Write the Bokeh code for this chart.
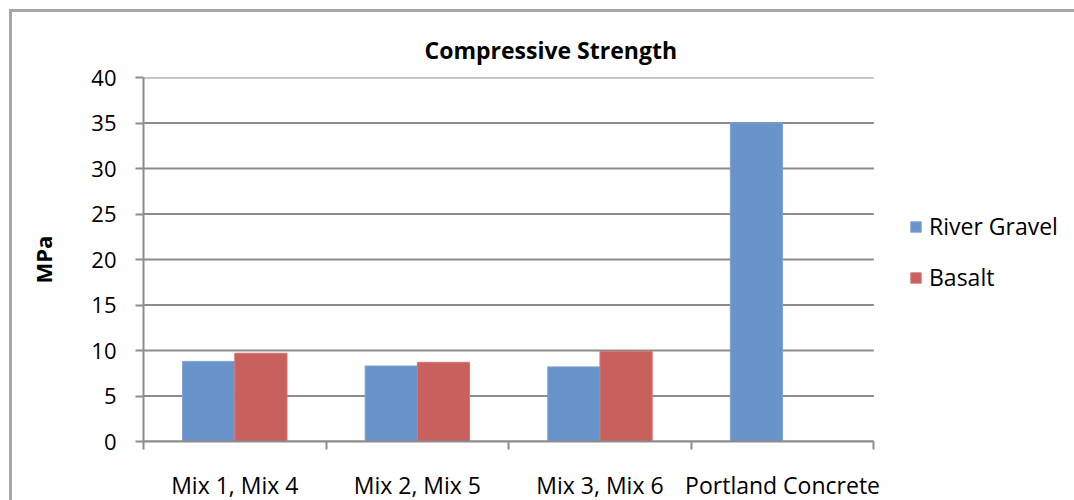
from bokeh.plotting import figure
from bokeh.models import (ColumnDataSource, FixedTicker, Legend, LegendItem,
                          Title, Range1d)
from bokeh.transform import dodge
from bokeh.embed import file_html
from bokeh.resources import INLINE

# Compressive strength (MPa) per mix pair
categories = ["Mix 1, Mix 4", "Mix 2, Mix 5", "Mix 3, Mix 6", "Portland Concrete"]
river_gravel = [8.8, 8.3, 8.2, 35.0]
basalt = [9.7, 8.7, 9.9, float("nan")]
y_ticks = [0, 5, 10, 15, 20, 25, 30, 35, 40]

FONT = "Open Sans"
GRID = "#8c8c8c"
BLUE = "#6894c9"
RED = "#c8605e"

# chart area sits inside a grey border drawn on the left and top edges
OFF = 12
W, H = 1074 - OFF, 500 - OFF
LEFT, TOP, BOTTOM = 143 - OFF, 77 - OFF, 58
CAT_PX = 728  # pixel width of the category area; the legend sits to its right

n = len(categories)
x_end = n * (W - LEFT) / CAT_PX

centers = [i + 0.5 for i in range(n)]
src = ColumnDataSource(dict(x=centers, rg=river_gravel, ba=basalt))
grid_src = ColumnDataSource(dict(y=y_ticks, x0=[0] * len(y_ticks),
                                 x1=[n] * len(y_ticks)))

p = figure(width=W, height=H, output_backend="svg", toolbar_location=None,
           x_range=Range1d(0, x_end), y_range=Range1d(0, 40),
           min_border_left=LEFT, min_border_right=0,
           min_border_top=TOP, min_border_bottom=BOTTOM,
           background_fill_color="white", border_fill_color="white",
           outline_line_color=None)
p.styles = {"border-left": "3px solid #a6a6a6", "border-top": "3px solid #a6a6a6",
            "margin-left": "9px", "margin-top": "9px", "box-sizing": "content-box"}

# horizontal gridlines spanning the category area only
p.segment(x0="x0", x1="x1", y0="y", y1="y", source=grid_src,
          line_color=GRID, line_width=2, level="underlay")

bar_w = 0.286
r1 = p.vbar(x=dodge("x", -bar_w / 2), top="rg", width=bar_w, source=src,
            fill_color=BLUE, line_color="#7aa3d4", line_width=1)
r2 = p.vbar(x=dodge("x", bar_w / 2), top="ba", width=bar_w, source=src,
            fill_color=RED, line_color="#d47674", line_width=1)

# chart title
p.add_layout(Title(text="Compressive Strength", align="left", offset=281,
                   text_font=FONT, text_font_size="23px", text_font_style="bold",
                   text_color="#000000", standoff=23), "above")

# x axis: category labels centred, ticks on the category boundaries
xa = p.xaxis[0]
xa.bounds = (0, n)
xa.ticker = FixedTicker(ticks=centers, minor_ticks=list(range(n + 1)))
xa.major_label_overrides = {c: lab for c, lab in zip(centers, categories)}
xa.major_tick_out = 0
xa.major_tick_in = 0
xa.minor_tick_out = 8
xa.minor_tick_in = 0
xa.minor_tick_line_color = GRID
xa.minor_tick_line_width = 2
xa.axis_line_color = GRID
xa.axis_line_width = 2
xa.major_label_standoff = 19
xa.major_label_text_font = FONT
xa.major_label_text_font_size = "23px"
xa.major_label_text_color = "#000000"

# y axis
ya = p.yaxis[0]
ya.ticker = FixedTicker(ticks=y_ticks, minor_ticks=[])
ya.major_tick_out = 8
ya.major_tick_in = 0
ya.major_tick_line_color = GRID
ya.major_tick_line_width = 2
ya.axis_line_color = GRID
ya.axis_line_width = 2
ya.major_label_standoff = 19
ya.major_label_text_font = FONT
ya.major_label_text_font_size = "22px"
ya.major_label_text_color = "#000000"
ya.axis_label = "MPa"
ya.axis_label_text_font = FONT
ya.axis_label_text_font_size = "22px"
ya.axis_label_text_font_style = "bold"
ya.axis_label_text_color = "#000000"
ya.axis_label_standoff = 30

p.xgrid.grid_line_color = None
p.ygrid.grid_line_color = None

legend = Legend(items=[LegendItem(label="River Gravel", renderers=[r1]),
                       LegendItem(label="Basalt", renderers=[r2])],
                location=(766, 148), orientation="vertical",
                glyph_width=13, glyph_height=13, label_height=22,
                spacing=19, padding=0, margin=0, label_standoff=7,
                label_text_font=FONT, label_text_font_size="23px",
                label_text_color="#000000", border_line_color=None,
                background_fill_alpha=0)
p.add_layout(legend, "center")

open("out.html", "w").write(file_html(p, INLINE))
